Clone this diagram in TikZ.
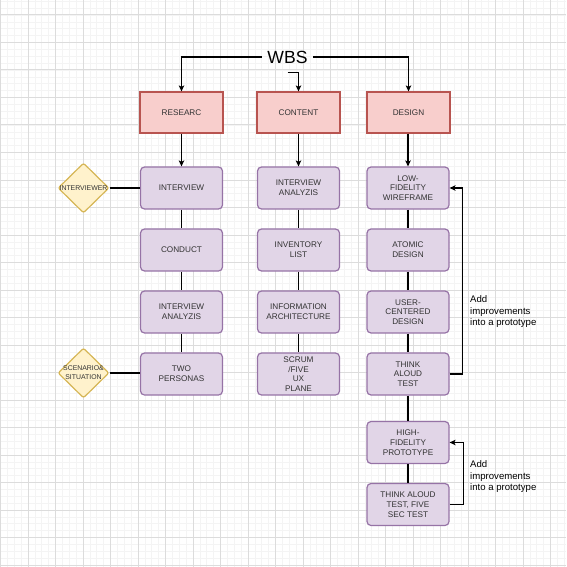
\documentclass[tikz,border=0pt]{standalone}
\usepackage{fontspec}
\setmainfont{Liberation Sans}
\usetikzlibrary{arrows.meta,shapes.geometric}
\definecolor{redfill}{HTML}{F8CECC}
\definecolor{redline}{HTML}{B85450}
\definecolor{purplefill}{HTML}{E1D5E7}
\definecolor{purpleline}{HTML}{9673A6}
\definecolor{yellowfill}{HTML}{FFF2CC}
\definecolor{yellowline}{HTML}{D6B656}
\definecolor{txt}{HTML}{333333}
\definecolor{minorgrid}{HTML}{F4F4F4}
\definecolor{majorgrid}{HTML}{DCDCDC}
\begin{document}
\begin{tikzpicture}[x=1pt,y=-1pt,
  boxfont/.style={font=\fontsize{8.2}{9.7}\selectfont, text=txt},
  redbox/.style={draw=redline, fill=redfill, line width=1.2pt, minimum width=83pt, minimum height=41pt, inner sep=0pt, align=center, boxfont},
  purplebox/.style={draw=purpleline, fill=purplefill, rounded corners=4pt, line width=1.2pt, minimum width=82pt, minimum height=42pt, inner sep=0pt, align=center, boxfont},
  decision/.style={diamond, draw=yellowline, fill=yellowfill, line width=1.2pt, rounded corners=2pt, minimum width=51pt, minimum height=50pt, inner sep=0pt},
  dlabel/.style={font=\fontsize{6.9}{9}\selectfont, text=txt, align=center, inner sep=0pt},
  conn/.style={line width=1.2pt, black},
  arr/.style={conn, -{Stealth[length=6pt,width=5.5pt,inset=1.5pt]}},
  note/.style={align=left, inner sep=0pt, font=\fontsize{9.6}{11.5}\selectfont, anchor=west, text=black}
]
\useasboundingbox (0,0) rectangle (566,567);
% grid
\foreach \k in {0,...,82} {
  \draw[minorgrid, line width=0.7pt] ({0.5+6.875*\k},0) -- ({0.5+6.875*\k},567);
  \draw[minorgrid, line width=0.7pt] (0,{1.25+6.875*\k}) -- (566,{1.25+6.875*\k});
}
\foreach \k in {0,...,20} {
  \draw[majorgrid, line width=1pt] ({0.5+27.5*\k},0) -- ({0.5+27.5*\k},567);
  \draw[majorgrid, line width=1pt] (0,{15+27.5*\k}) -- (566,{15+27.5*\k});
}

% title
\node[minimum width=51pt, minimum height=30pt, inner sep=0pt, font=\fontsize{17.6}{20}\selectfont, text=black] (wbs) at (287.5,57) {WBS};

% headers
\node[redbox] (res) at (181.5,112.5) {RESEARC};
\node[redbox] (con) at (298.5,112.5) {CONTENT};
\node[redbox] (des) at (408.5,112.5) {DESIGN};

% research column
\node[purplebox] (r1) at (181.5,188) {INTERVIEW};
\node[purplebox] (r2) at (181.5,250) {CONDUCT};
\node[purplebox] (r3) at (181.5,312) {INTERVIEW\\ANALYZIS};
\node[purplebox] (r4) at (181.5,374) {TWO\\PERSONAS};

% content column
\node[purplebox] (c1) at (298.5,188) {INTERVIEW\\ANALYZIS};
\node[purplebox] (c2) at (298.5,250) {INVENTORY\\LIST};
\node[purplebox] (c3) at (298.5,312) {INFORMATION\\ARCHITECTURE};
\node[purplebox] (c4) at (298.5,374) {SCRUM\\/FIVE\\UX\\PLANE};

% design column
\node[purplebox] (d1) at (408,188) {LOW-\\FIDELITY\\WIREFRAME};
\node[purplebox] (d2) at (408,250) {ATOMIC\\DESIGN};
\node[purplebox] (d3) at (408,312) {USER-\\CENTERED\\DESIGN};
\node[purplebox] (d4) at (408,374) {THINK\\ALOUD\\TEST};
\node[purplebox] (d5) at (408,442.5) {HIGH-\\FIDELITY\\PROTOTYPE};
\node[purplebox] (d6) at (408,504.5) {THINK ALOUD\\TEST, FIVE\\SEC TEST};

% decisions
\node[decision, label={[dlabel]center:INTERVIEWER}] (q1) at (83.5,188) {};
\node[decision, label={[dlabel]center:{SCENARIO\&\\SITUATION}}] (q2) at (83.5,373) {};

% notes
\node[note] (n1) at (470,312) {Add\\improvements\\into a prototype};
\node[note] (n2) at (470,477) {Add\\improvements\\into a prototype};

% connectors
\draw[arr] (wbs.west) -| (res.north);
\draw[arr] (wbs.east) -| (des.north);
\draw[arr] (wbs.south) -| (con.north);
\draw[arr] (res.south) -- (r1.north);
\draw[arr] (con.south) -- (c1.north);
\draw[arr] (des.south -| d1.north) -- (d1.north);
\draw[conn] (r1) -- (r2) (r2) -- (r3) (r3) -- (r4);
\draw[conn] (c1) -- (c2) (c2) -- (c3) (c3) -- (c4);
\draw[conn] (d1) -- (d2) (d2) -- (d3) (d3) -- (d4) (d4) -- (d5) (d5) -- (d6);
\draw[conn] (q1.east) -- (r1.west);
\draw[conn] (q2.east) -- (q2.east -| r4.west);
\draw[arr] (d4.east) -- ++(12.5,0) |- (d1.east);
\draw[arr] (d6.east) -- ++(14,0) |- (d5.east);
\end{tikzpicture}
\end{document}
